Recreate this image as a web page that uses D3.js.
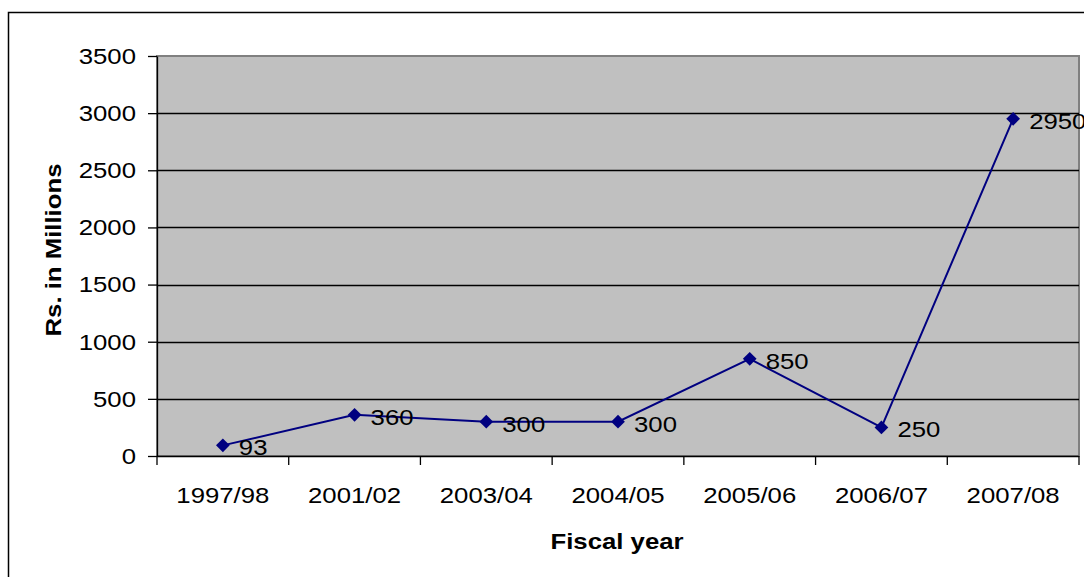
<!DOCTYPE html>
<html>
<head>
<meta charset="utf-8">
<script src="https://cdn.jsdelivr.net/npm/d3@7"></script>
<style>
  html, body { margin: 0; padding: 0; background: #fff; }
  svg { display: block; font-family: "Liberation Sans", Arial, sans-serif; }
</style>
</head>
<body>
<svg id="chart" width="1084" height="577"></svg>
<script>
// Fiscal years and the amount for each (Rs. in millions)
const years = ["1997/98", "2001/02", "2003/04", "2004/05", "2005/06", "2006/07", "2007/08"];
const amounts = [93, 360, 300, 300, 850, 250, 2950];
const yTicks = [0, 500, 1000, 1500, 2000, 2500, 3000, 3500];

const svg = d3.select("#chart");
const W = 1084, H = 577;
const plot = { left: 157, top: 56, right: 1079, bottom: 456 };
const FS = 23;        // text size
const WIDEN = 1.12;   // horizontal stretch of the lettering

// place a text node at (px, py) with the lettering widened along its run
function placeText(sel, px, py, rot) {
  sel.attr("x", 0).attr("y", 0)
     .attr("transform", (d, i) => {
       const X = typeof px === "function" ? px(d, i) : px;
       const Y = typeof py === "function" ? py(d, i) : py;
       return `translate(${X},${Y})${rot ? ` rotate(${rot})` : ""} scale(${WIDEN},1)`;
     });
  return sel;
}

// outer chart frame (runs past the right and bottom edges)
svg.append("rect")
  .attr("x", 8.5).attr("y", 12.5)
  .attr("width", W + 20).attr("height", H + 20)
  .attr("fill", "#fff").attr("stroke", "#000").attr("stroke-width", 1.5);

const x = d3.scaleBand().domain(years).range([plot.left, plot.right]).padding(0);
const y = d3.scaleLinear().domain([0, 3500]).range([plot.bottom, plot.top]);

// plot area
svg.append("rect")
  .attr("x", plot.left).attr("y", plot.top)
  .attr("width", plot.right - plot.left).attr("height", plot.bottom - plot.top)
  .attr("fill", "#c0c0c0").attr("stroke", "#808080").attr("stroke-width", 2);

// gridlines
svg.append("g")
  .selectAll("line")
  .data(yTicks.filter(d => d > 0 && d < 3500))
  .join("line")
  .attr("x1", plot.left).attr("x2", plot.right)
  .attr("y1", d => Math.round(y(d)) + 0.5).attr("y2", d => Math.round(y(d)) + 0.5)
  .attr("stroke", "#000").attr("stroke-width", 1.3);

// y axis
const yAxis = svg.append("g")
  .attr("transform", `translate(${plot.left},0)`)
  .call(d3.axisLeft(y).tickValues(yTicks).tickFormat(d3.format("d"))
        .tickSize(9).tickSizeOuter(0).tickPadding(5));
yAxis.attr("font-size", FS).attr("font-family", "Liberation Sans, Arial, sans-serif");
yAxis.select(".domain").attr("stroke", "#000").attr("stroke-width", 1.3);
yAxis.selectAll(".tick line").attr("stroke", "#000").attr("stroke-width", 1.3);
yAxis.selectAll(".tick text")
  .attr("fill", "#000")
  .attr("x", 0)
  .attr("transform", `translate(-21,0) scale(${WIDEN},1)`);

// x axis with ticks at category boundaries
const xAxisG = svg.append("g").attr("transform", `translate(0,${plot.bottom})`);
xAxisG.append("line")
  .attr("x1", plot.left).attr("x2", plot.right)
  .attr("y1", 0.5).attr("y2", 0.5)
  .attr("stroke", "#000").attr("stroke-width", 1.3);
const boundaries = years.map(d => x(d)).concat([x(years[years.length - 1]) + x.bandwidth()]);
xAxisG.selectAll("line.tk")
  .data(boundaries)
  .join("line").attr("class", "tk")
  .attr("x1", d => d).attr("x2", d => d)
  .attr("y1", 0).attr("y2", 9)
  .attr("stroke", "#000").attr("stroke-width", 1.3);
xAxisG.selectAll("text")
  .data(years)
  .join("text")
  .call(placeText, d => x(d) + x.bandwidth() / 2, 47)
  .attr("text-anchor", "middle")
  .attr("font-size", FS)
  .attr("fill", "#000")
  .text(d => d);

// axis titles
svg.append("text")
  .call(placeText, 617, 549)
  .attr("text-anchor", "middle")
  .attr("font-size", FS).attr("font-weight", "bold")
  .text("Fiscal year");
svg.append("text")
  .call(placeText, 61, (plot.top + plot.bottom) / 2 - 6, -90)
  .attr("text-anchor", "middle")
  .attr("font-size", FS).attr("font-weight", "bold")
  .text("Rs. in Millions");

// series line
const cx = d => x(d) + x.bandwidth() / 2;
const line = d3.line().x((d, i) => cx(years[i])).y(d => y(d));
svg.append("path")
  .datum(amounts)
  .attr("d", line)
  .attr("fill", "none").attr("stroke", "#000080").attr("stroke-width", 2);

// diamond markers
svg.append("g")
  .selectAll("path")
  .data(amounts)
  .join("path")
  .attr("transform", (d, i) => `translate(${cx(years[i])},${y(d)})`)
  .attr("d", d3.symbol().type(d3.symbolDiamond2).size(120))
  .attr("fill", "#000080");

// value labels
svg.append("g")
  .selectAll("text")
  .data(amounts)
  .join("text")
  .call(placeText, (d, i) => cx(years[i]) + 16, d => y(d) + 10)
  .attr("font-size", FS)
  .attr("fill", "#000")
  .text(d => d);
</script>
</body>
</html>
